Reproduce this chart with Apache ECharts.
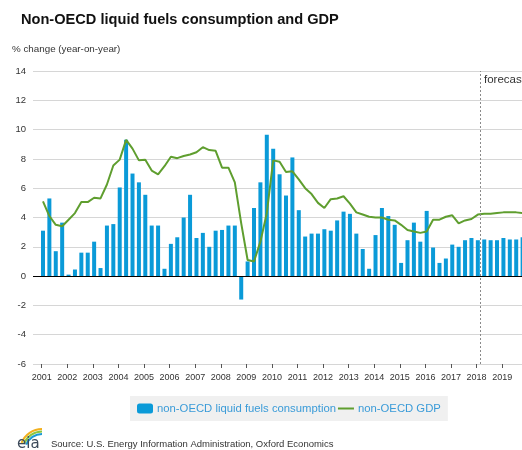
<!DOCTYPE html>
<html>
<head>
<meta charset="utf-8">
<script src="https://cdn.jsdelivr.net/npm/echarts@6/dist/echarts.min.js"></script>
<style>
  html, body { margin: 0; padding: 0; background: #fff; }
  #chart { width: 522px; height: 450px; }
</style>
</head>
<body>
<div id="chart"></div>
<script>
// year labels, one per 4 quarters
const years = ['2001', '2002', '2003', '2004', '2005', '2006', '2007', '2008', '2009', '2010',
    '2011', '2012', '2013', '2014', '2015', '2016', '2017', '2018', '2019'];

// quarterly % change year-on-year, 2001Q1 .. 2019Q4
const fuelsConsumption = [
    3.1, 5.3, 1.7, 3.65,   0.1, 0.45, 1.6, 1.6,   2.35, 0.55, 3.45, 3.55,   6.05, 9.3, 7.0, 6.4,
    5.55, 3.45, 3.45, 0.5,  2.2, 2.65, 4.0, 5.55,  2.6, 2.95, 2.0, 3.1,      3.15, 3.45, 3.45, -1.6,
    1.0, 4.65, 6.4, 9.65,   8.7, 6.95, 5.5, 8.1,   4.5, 2.7, 2.9, 2.9,      3.2, 3.1, 3.8, 4.4,
    4.25, 2.9, 1.85, 0.5,   2.8, 4.65, 4.1, 3.5,   0.9, 2.45, 3.65, 2.35,   4.45, 1.95, 0.9, 1.2,
    2.15, 2.0, 2.45, 2.6,   2.45, 2.5, 2.45, 2.45, 2.6, 2.5, 2.5, 2.65
];

const gdp = [
    5.1, 4.1, 3.5, 3.4,     3.85, 4.3, 5.05, 5.05, 5.35, 5.3, 6.25, 7.55,   7.95, 9.3, 8.7, 7.9,
    7.95, 7.2, 6.95, 7.5,   8.15, 8.05, 8.2, 8.3,  8.45, 8.8, 8.6, 8.55,    7.4, 7.4, 6.4, 3.6,
    1.1, 1.0, 2.35, 4.3,    7.9, 7.8, 7.1, 7.15,   6.6, 6.0, 5.6, 5.0,      4.65, 5.25, 5.3, 5.45,
    4.95, 4.35, 4.2, 4.05,  4.0, 4.0, 3.85, 3.8,   3.5, 3.15, 3.05, 2.95,   3.05, 3.85, 3.85, 4.05,
    4.15, 3.6, 3.8, 3.9,    4.2, 4.25, 4.25, 4.3,  4.35, 4.35, 4.35, 4.3
];

const font = 'Liberation Sans';
const yearTicks = years.map((y, i) => i * 4 - 0.2);

const chart = echarts.init(document.getElementById('chart'));

chart.setOption({
    animation: false,
    textStyle: { fontFamily: font },
    title: [
        {
            text: 'Non-OECD liquid fuels consumption and GDP',
            left: 21, top: 12, padding: 0,
            textStyle: { fontSize: 14.6, fontWeight: 'bold', color: '#111', fontFamily: font }
        },
        {
            text: '% change (year-on-year)',
            left: 12, top: 44, padding: 0,
            textStyle: { fontSize: 9.8, fontWeight: 'normal', color: '#333', fontFamily: font }
        },
        {
            text: 'forecast',
            left: 484, top: 74, padding: 0,
            textStyle: { fontSize: 11.5, fontWeight: 'normal', color: '#333', fontFamily: font }
        },
        {
            text: 'Source: U.S. Energy Information Administration, Oxford Economics',
            left: 51, top: 439, padding: 0,
            textStyle: { fontSize: 9.5, fontWeight: 'normal', color: '#333', fontFamily: font }
        }
    ],
    legend: {
        left: 130, top: 396,
        padding: [7, 7],
        itemGap: 1,
        itemWidth: 16,
        itemHeight: 10,
        backgroundColor: '#f0f0f0',
        textStyle: { fontSize: 11.3, color: '#3a9bd8', fontFamily: font, padding: [0, 0, 0, -1] },
        data: [
            { name: 'non-OECD liquid fuels consumption', icon: 'roundRect' },
            { name: 'non-OECD GDP', itemStyle: { opacity: 0 } }
        ]
    },
    grid: {
        left: 33, top: 71, width: 496, height: 293,
        outerBoundsMode: 'none'
    },
    xAxis: {
        type: 'value',
        min: -1.56,
        max: 76,
        splitLine: { show: false },
        axisLine: { show: false, onZero: false },
        axisTick: {
            show: true,
            length: 4,
            customValues: yearTicks,
            lineStyle: { color: '#555' }
        },
        axisLabel: {
            customValues: yearTicks,
            margin: 9,
            fontSize: 9,
            color: '#333',
            formatter: (v) => years[Math.round((v + 0.2) / 4)]
        }
    },
    yAxis: {
        type: 'value',
        min: -6,
        max: 14,
        interval: 2,
        axisLine: { show: false },
        axisTick: { show: false },
        axisLabel: { margin: 7, fontSize: 9.5, color: '#333' },
        splitLine: { lineStyle: { color: '#d6d6d6', width: 1 } }
    },
    series: [
        {
            name: 'non-OECD liquid fuels consumption',
            type: 'bar',
            barWidth: 4,
            itemStyle: { color: '#0a9ad8' },
            data: fuelsConsumption.map((v, i) => [i, v]),
            markLine: {
                silent: true,
                symbol: 'none',
                label: { show: false },
                data: [
                    { yAxis: 0, lineStyle: { color: '#000', width: 1, type: 'solid' } },
                    { xAxis: 68.35, lineStyle: { color: '#8a8a8a', width: 1, type: [2, 2] } }
                ]
            }
        },
        {
            name: 'non-OECD GDP',
            type: 'line',
            symbol: 'none',
            lineStyle: { color: '#5f9e2f', width: 2 },
            itemStyle: { color: '#5f9e2f' },
            data: gdp.map((v, i) => [i, v])
        }
    ],
    graphic: [
        { type: 'arc', shape: { cx: 42, cy: 451, r: 22, startAngle: Math.PI * 1.12, endAngle: Math.PI * 1.5 },
          style: { stroke: '#f2b01e', lineWidth: 2, fill: null } },
        { type: 'arc', shape: { cx: 42, cy: 451, r: 19.5, startAngle: Math.PI * 1.12, endAngle: Math.PI * 1.5 },
          style: { stroke: '#8cc63f', lineWidth: 2, fill: null } },
        { type: 'arc', shape: { cx: 42, cy: 451, r: 17, startAngle: Math.PI * 1.12, endAngle: Math.PI * 1.5 },
          style: { stroke: '#1b9ad6', lineWidth: 2, fill: null } },
        { type: 'text', x: 17, y: 437,
          style: { text: 'eia', font: '15px "DejaVu Sans"', fill: '#3d4a5a' } }
    ]
});
</script>
</body>
</html>
